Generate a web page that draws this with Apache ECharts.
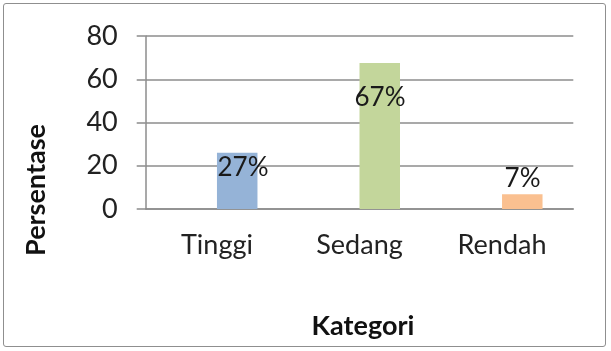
<!DOCTYPE html>
<html>
<head>
    <meta charset="UTF-8">
    <title>Persentase per Kategori</title>
    <script src="https://cdn.jsdelivr.net/npm/echarts@6.0.0/dist/echarts.min.js"></script>
    <style>
        html, body { margin: 0; padding: 0; background: #fff; }
        #frame {
            position: absolute; left: 3px; top: 3px; width: 601px; height: 342px;
            border: 1.5px solid #8f8f8f; border-radius: 3px;
        }
        #chart { position: absolute; left: 0; top: 0; width: 611px; height: 351px; }
    </style>
</head>
<body>
    <div id="frame"></div>
    <div id="chart"></div>
    <script>
        // data
        var categories = ['Tinggi', 'Sedang', 'Rendah'];
        var values = [26, 67.5, 6.8];
        var dataLabels = ['27%', '67%', '7%'];
        var barColors = ['#95b3d7', '#c3d69b', '#fac090'];
        var yTicks = [0, 20, 40, 60, 80];

        // label placement relative to each bar (top-left corner)
        var labelPlace = [[26, 15], [20.5, 35], [20.5, -15.5]];

        var font = 'Lato, "Open Sans", sans-serif';
        var chart = echarts.init(document.getElementById('chart'));
        chart.setOption({
            animation: false,
            grid: { left: 145.7, right: 37.7, top: 36, bottom: 142 },
            xAxis: {
                type: 'category',
                data: categories,
                axisLine: { lineStyle: { color: '#8c8c8c', width: 1.5 } },
                axisTick: { show: false },
                axisLabel: { margin: 23, fontSize: 27, color: '#222', fontFamily: font }
            },
            yAxis: {
                type: 'value',
                min: yTicks[0],
                max: yTicks[yTicks.length - 1],
                interval: 20,
                axisLine: { show: true, lineStyle: { color: '#8c8c8c', width: 1.5 } },
                axisTick: { show: true, inside: false, length: 9, lineStyle: { color: '#8c8c8c', width: 1.5 } },
                splitLine: { lineStyle: { color: '#8c8c8c', width: 1.5 } },
                axisLabel: { margin: 28, fontSize: 27, color: '#222', fontFamily: font }
            },
            series: [
                {
                    // empty first series, as in the original, pushes the bars right of centre
                    type: 'bar',
                    data: categories.map(function () { return '-'; }),
                    barWidth: 40.5,
                    barGap: 0
                },
                {
                    type: 'bar',
                    barWidth: 40.5,
                    barGap: 0,
                    data: values.map(function (v, i) {
                        return {
                            value: v,
                            itemStyle: { color: barColors[i] },
                            label: {
                                show: true,
                                position: labelPlace[i],
                                align: 'center',
                                verticalAlign: 'middle',
                                formatter: dataLabels[i],
                                fontSize: 26,
                                color: '#1a1a1a',
                                fontFamily: font
                            }
                        };
                    })
                }
            ],
            graphic: [
                {
                    type: 'text', x: 36, y: 190, rotation: Math.PI / 2,
                    style: {
                        text: 'Persentase', fontSize: 27, fontWeight: 'bold', fill: '#111',
                        fontFamily: font, align: 'center', verticalAlign: 'middle'
                    }
                },
                {
                    type: 'text', x: 363, y: 326,
                    style: {
                        text: 'Kategori', fontSize: 27, fontWeight: 'bold', fill: '#111',
                        fontFamily: font, align: 'center', verticalAlign: 'middle'
                    }
                }
            ]
        });
    </script>
</body>
</html>
